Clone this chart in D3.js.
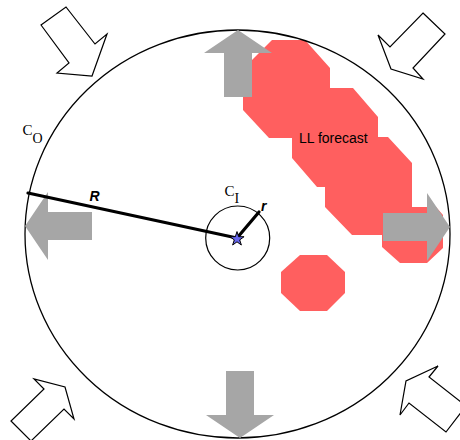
<!DOCTYPE html>
<html>
<head>
<meta charset="utf-8">
<script src="https://cdn.jsdelivr.net/npm/d3@7"></script>
<style>
  body { margin: 0; background: #fff; }
</style>
</head>
<body>
<script>
var width = 460,
    height = 440;

// diagram data (original picture units)
const forecastArea = [[272,40],[305,40],[330,68],[330,88],[353,88],[378,117],[378,137],[388,137],
    [412,163],[412,207],[436,207],[443,215],[443,248],[427,263],[400,263],[382,247],[382,235],
    [352,235],[325,207],[325,187],[317,187],[292,158],[292,138],[269,138],[243,110],[243,69]];
const forecastCell = [[300,255],[327,255],[345,272],[345,293],[327,311],[300,311],[281,293],[281,272]];
const pushTips = [[238,30],[25,226],[240,438],[450,227]];
const pushAngles = [-90, 180, 90, 0];
const inflowArrows = [
    [[41,25],[66,7],[95,44],[107,34],[92,76],[57,73],[69,63]],
    [[423,13],[445,34],[413,68],[423,79],[391,69],[378,35],[390,47]],
    [[11,421],[31,441],[64,409],[74,419],[65,387],[34,379],[44,389]],
    [[438,366],[406,381],[400,415],[409,403],[446,432],[466,406],[429,377]]
];
const outerRing = [237.5, 234, 212.5, 204];   // cx, cy, rx, ry
const innerRing = [237.7, 238, 32];          // cx, cy, r
const stormCenter = [237, 238];
const radiusEnds = [[28,193],[259,212]];     // R, r
const labels = ["R", "r", "LL forecast"];
const labelPos = [[89.5,200.5],[261,210.5],[299,142.5]];

var x = d3.scaleLinear().domain([0, 460]).range([0, width]);
var y = d3.scaleLinear().domain([0, 440]).range([0, height]);

var svg = d3.select("body")
    .append("svg")
    .attr("width", width)
    .attr("height", height);

var line = d3.line()
    .x(function (d) { return x(d[0]); })
    .y(function (d) { return y(d[1]); });

// red forecast area
svg.append("g")
    .selectAll("path")
    .data([forecastArea, forecastCell])
    .enter().append("path")
    .attr("d", function (d) { return line(d) + "Z"; })
    .style("fill", "#ff5f5f");

// outer circle
svg.append("ellipse")
    .attr("cx", x(outerRing[0]))
    .attr("cy", y(outerRing[1]))
    .attr("rx", x(outerRing[2]) - x(0))
    .attr("ry", y(outerRing[3]) - y(0))
    .style("fill", "none")
    .style("stroke", "#000")
    .style("stroke-width", 1.3);

// inner circle
svg.append("circle")
    .attr("cx", x(innerRing[0]))
    .attr("cy", y(innerRing[1]))
    .attr("r", x(innerRing[2]) - x(0))
    .style("fill", "none")
    .style("stroke", "#000")
    .style("stroke-width", 1.2);

// gray arrows, shape pointing to +x with tip at origin
var arrowShape = [[0,0],[-23,-34],[-23,-14],[-67,-14],[-67,14],[-23,14],[-23,34]];
svg.append("g")
    .selectAll("path")
    .data(pushTips)
    .enter().append("path")
    .attr("d", line(arrowShape) + "Z")
    .attr("transform", function (d, i) {
        return "translate(" + x(d[0]) + "," + y(d[1]) + ") rotate(" + pushAngles[i] + ")";
    })
    .style("fill", "#a6a6a6");

// outlined inflow arrows
svg.append("g")
    .selectAll("path")
    .data(inflowArrows)
    .enter().append("path")
    .attr("d", function (d) { return line(d) + "Z"; })
    .style("fill", "#fff")
    .style("stroke", "#000")
    .style("stroke-width", 1.2)
    .style("stroke-linejoin", "miter");

// radius lines
svg.append("g")
    .selectAll("path")
    .data(radiusEnds)
    .enter().append("path")
    .attr("d", function (d) { return line([d, stormCenter]); })
    .style("stroke", "#000")
    .style("stroke-width", 3.2)
    .style("stroke-linecap", "round");

// star at the centre
svg.append("path")
    .attr("d", d3.symbol().type(d3.symbolStar).size(62)())
    .attr("transform", "translate(" + x(stormCenter[0]) + "," + y(stormCenter[1] + 1) + ")")
    .style("fill", "#6666ee")
    .style("stroke", "#000")
    .style("stroke-width", 1);

// labels
svg.append("g")
    .selectAll("text")
    .data(labels)
    .enter().append("text")
    .attr("x", function (d, i) { return x(labelPos[i][0]); })
    .attr("y", function (d, i) { return y(labelPos[i][1]); })
    .style("font-family", "'Liberation Sans', Arial, sans-serif")
    .style("font-size", "14px")
    .style("font-weight", function (d, i) { return i < 2 ? "bold" : "normal"; })
    .style("font-style", function (d, i) { return i < 2 ? "italic" : "normal"; })
    .text(function (d) { return d; });

// circle names with subscripts
var circleNames = [["C", "O"], ["C", "I"]];
var circleNamePos = [[22.5,135],[224.5,196]];
var names = svg.append("g")
    .selectAll("text")
    .data(circleNames)
    .enter().append("text")
    .attr("x", function (d, i) { return x(circleNamePos[i][0]); })
    .attr("y", function (d, i) { return y(circleNamePos[i][1]); })
    .style("font-family", "'Liberation Serif', 'Times New Roman', serif")
    .style("font-size", "15px");
names.append("tspan").text(function (d) { return d[0]; });
names.append("tspan")
    .attr("dy", function (d, i) { return i == 0 ? 8 : 7; })
    .style("font-size", "14px")
    .text(function (d) { return d[1]; });
</script>
</body>
</html>
